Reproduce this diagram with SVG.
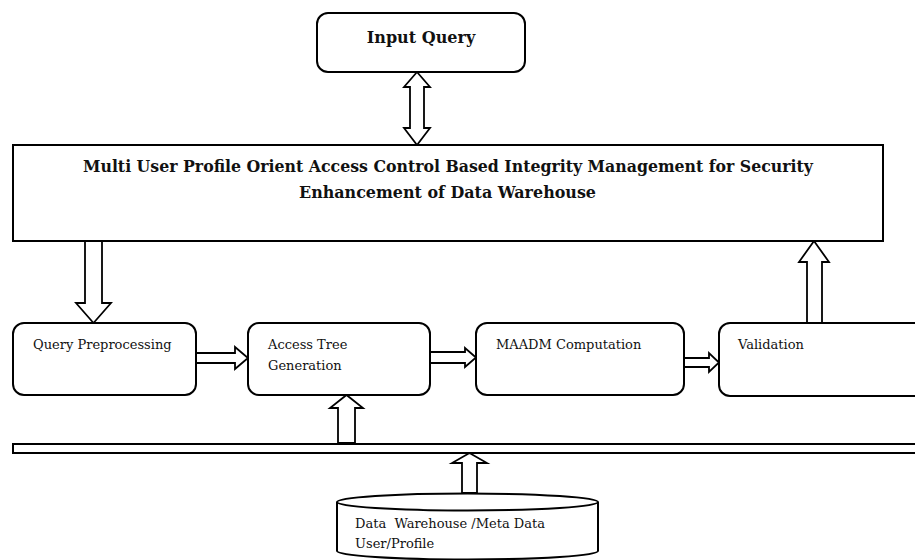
<svg xmlns="http://www.w3.org/2000/svg" width="915" height="560" viewBox="0 0 915 560">
<style>
.box{fill:#fff;stroke:#000;stroke-width:2}
.arr{fill:#fff;stroke:#000;stroke-width:1.8;stroke-linejoin:miter}
.t{font-family:"DejaVu Serif","Liberation Serif",serif;font-size:13px;fill:#111}
.b{font-family:"DejaVu Serif","Liberation Serif",serif;font-weight:bold;fill:#111}
</style>
<rect width="915" height="560" fill="#fff"/>
<g id="connectors">
<polygon class="arr" points="417,72 430,87 424,87 424,128 430,128 417,145 404,128 410,128 410,87 404,87"/>
<polygon class="arr" points="85,241 102,241 102,303 111,303 93.5,323 76,303 85,303"/>
<polygon class="arr" points="807,323 807,262 799,262 814,241 829,262 822,262 822,323"/>
<polygon class="arr" points="196,353 235,353 235,347 248,358 235,369 235,363 196,363"/>
<polygon class="arr" points="430,352 465,352 465,348 476,357.5 465,367 465,363 430,363"/>
<polygon class="arr" points="684,358 709,358 709,353 719,362.5 709,372 709,367 684,367"/>
<polygon class="arr" points="338,443 338,408 330,408 346.5,395 363,408 355,408 355,443"/>
<polygon class="arr" points="462,493 462,463 452,463 469.5,453 487,463 477,463 477,493"/>
</g>
<g id="input-query">
<rect class="box" x="317" y="13" width="208" height="59" rx="11"/>
<text class="b" x="421" y="43" font-size="16" text-anchor="middle">Input Query</text>
</g>
<g id="main">
<rect class="box" x="13" y="145" width="870" height="96"/>
<text class="b" x="448" y="172" font-size="16" text-anchor="middle" textLength="730" lengthAdjust="spacingAndGlyphs">Multi User Profile Orient Access Control Based Integrity Management for Security</text>
<text class="b" x="447.5" y="198" font-size="16" text-anchor="middle" textLength="297" lengthAdjust="spacingAndGlyphs">Enhancement of Data Warehouse</text>
</g>
<g id="query-preprocessing">
<rect class="box" x="13" y="323" width="183" height="72" rx="11"/>
<text class="t" x="33" y="349">Query Preprocessing</text>
</g>
<g id="access-tree">
<rect class="box" x="248" y="323" width="182" height="72" rx="11"/>
<text class="t" x="268" y="349">Access Tree</text>
<text class="t" x="268" y="370">Generation</text>
</g>
<g id="maadm">
<rect class="box" x="476" y="323" width="208" height="72" rx="11"/>
<text class="t" x="496" y="349">MAADM Computation</text>
</g>
<g id="validation">
<rect class="box" x="719" y="323" width="230" height="73" rx="11"/>
<text class="t" x="738" y="349">Validation</text>
</g>
<g id="bus">
<rect x="13" y="444" width="920" height="9" fill="#fff" stroke="#000" stroke-width="2"/>
</g>
<g id="data-warehouse">
<path class="box" d="M337,502 L337,551 A130.5,8.5 0 0 0 598,551 L598,502"/>
<ellipse class="box" cx="467.5" cy="502" rx="130.5" ry="8.5"/>
<text class="t" x="355" y="528" style="white-space:pre">Data  Warehouse /Meta Data</text>
<text class="t" x="355" y="548">User/Profile</text>
</g>
</svg>
